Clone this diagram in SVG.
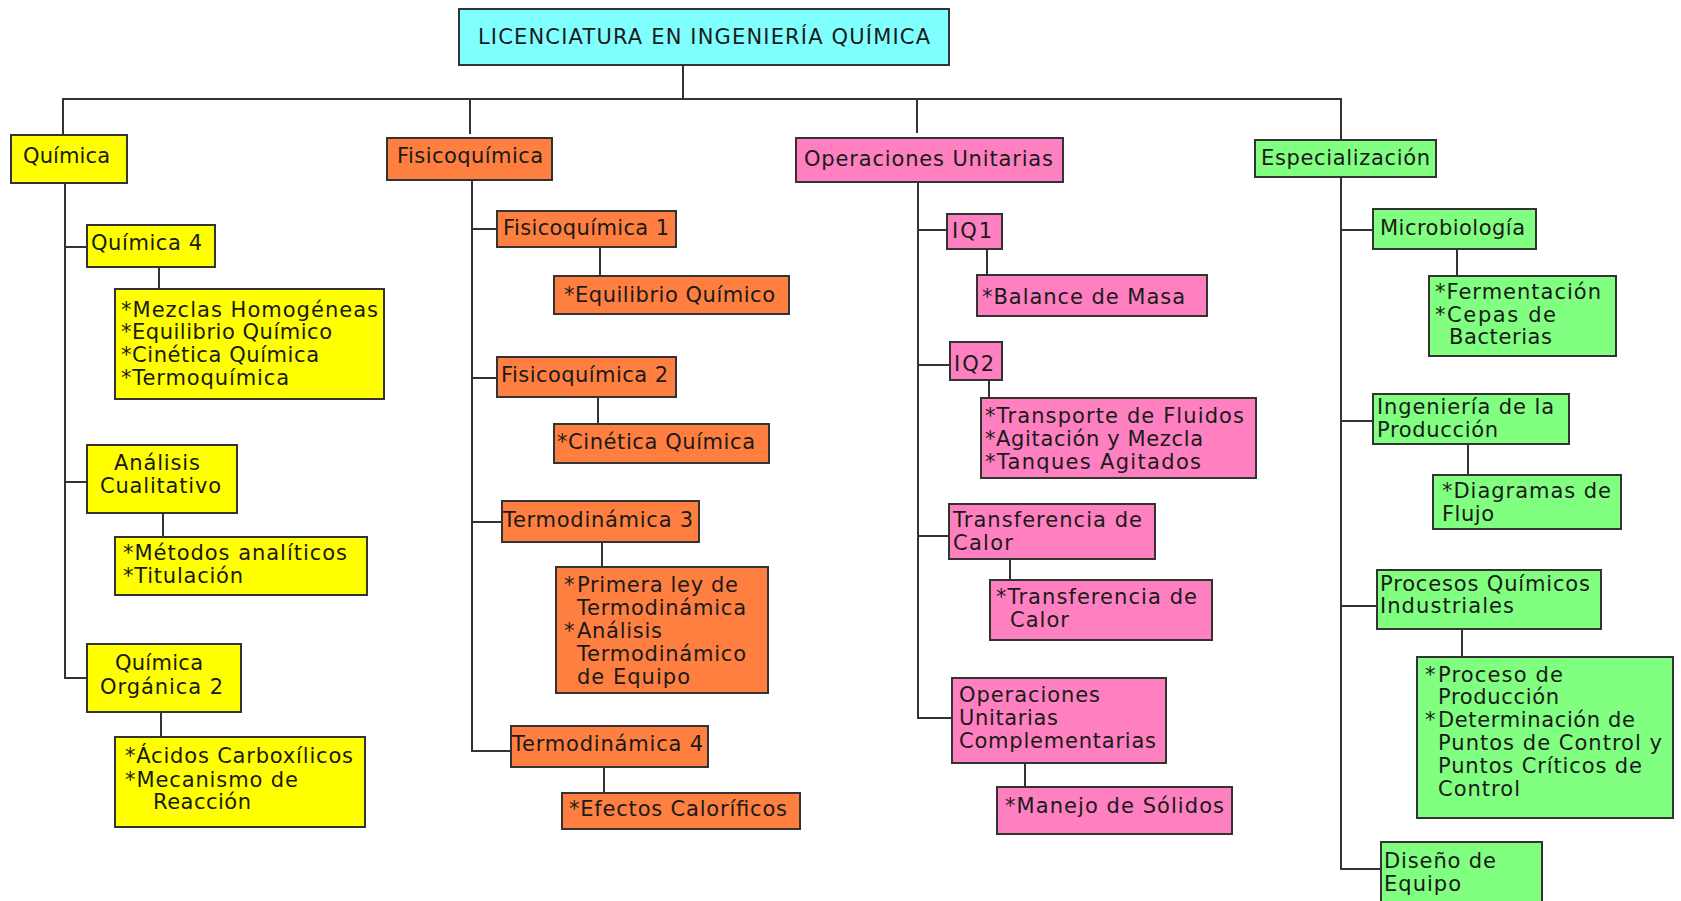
<svg xmlns="http://www.w3.org/2000/svg" width="1681" height="901" viewBox="0 0 1681 901">
<style>
.b{stroke:#333;stroke-width:2}
.r{fill:#80FFFF}.y{fill:#FFFF00}.o{fill:#FF7F40}.p{fill:#FF80C0}.g{fill:#80FF80}
text{font-family:"DejaVu Sans","Liberation Sans",sans-serif;font-size:21px;fill:#1a1a1a}
.c{text-anchor:middle}
#conn line{stroke:#333;stroke-width:2}
</style>
<rect width="1681" height="901" fill="#fff"/>
<g id="conn">
<line x1="683" y1="65" x2="683" y2="99"/>
<line x1="62" y1="99" x2="1342" y2="99"/>
<line x1="63" y1="99" x2="63" y2="135"/>
<line x1="470" y1="99" x2="470" y2="134"/>
<line x1="917" y1="99" x2="917" y2="133"/>
<line x1="1341" y1="99" x2="1341" y2="140"/>
<line x1="65" y1="183" x2="65" y2="679"/>
<line x1="65" y1="247" x2="87" y2="247"/>
<line x1="65" y1="482" x2="87" y2="482"/>
<line x1="64" y1="678" x2="87" y2="678"/>
<line x1="159" y1="267" x2="159" y2="289"/>
<line x1="163" y1="513" x2="163" y2="537"/>
<line x1="161" y1="712" x2="161" y2="737"/>
<line x1="472" y1="180" x2="472" y2="752"/>
<line x1="472" y1="229" x2="497" y2="229"/>
<line x1="472" y1="378" x2="497" y2="378"/>
<line x1="472" y1="522" x2="502" y2="522"/>
<line x1="471" y1="751" x2="511" y2="751"/>
<line x1="600" y1="247" x2="600" y2="276"/>
<line x1="598" y1="397" x2="598" y2="424"/>
<line x1="602" y1="542" x2="602" y2="567"/>
<line x1="604" y1="767" x2="604" y2="793"/>
<line x1="918" y1="182" x2="918" y2="719"/>
<line x1="918" y1="230" x2="947" y2="230"/>
<line x1="918" y1="365" x2="950" y2="365"/>
<line x1="918" y1="536" x2="949" y2="536"/>
<line x1="917" y1="718" x2="952" y2="718"/>
<line x1="987" y1="249" x2="987" y2="275"/>
<line x1="989" y1="380" x2="989" y2="398"/>
<line x1="1010" y1="559" x2="1010" y2="580"/>
<line x1="1025" y1="763" x2="1025" y2="787"/>
<line x1="1341" y1="177" x2="1341" y2="870"/>
<line x1="1341" y1="230" x2="1373" y2="230"/>
<line x1="1341" y1="421" x2="1373" y2="421"/>
<line x1="1341" y1="606" x2="1377" y2="606"/>
<line x1="1340" y1="869" x2="1381" y2="869"/>
<line x1="1457" y1="249" x2="1457" y2="276"/>
<line x1="1468" y1="444" x2="1468" y2="475"/>
<line x1="1462" y1="629" x2="1462" y2="657"/>
</g>
<g id="root"><rect class="b r" x="459" y="9" width="490" height="56"/><text x="478" y="44" textLength="452">LICENCIATURA EN INGENIERÍA QUÍMICA</text></g>

<g id="quimica"><rect class="b y" x="11" y="135" width="116" height="48"/><text x="23" y="163" textLength="87">Química</text></g>
<g id="quimica4"><rect class="b y" x="87" y="225" width="128" height="42"/><text x="91" y="250" textLength="111">Química 4</text></g>
<g id="quimica4-temas"><rect class="b y" x="115" y="289" width="269" height="110"/>
<text x="121" y="317" textLength="257">*Mezclas Homogéneas</text><text x="121" y="339" textLength="211">*Equilibrio Químico</text><text x="121" y="362" textLength="198">*Cinética Química</text><text x="121" y="385" textLength="168">*Termoquímica</text></g>
<g id="analisis"><rect class="b y" x="87" y="445" width="150" height="68"/><text x="114" y="470" textLength="86">Análisis</text><text x="100" y="493" textLength="121">Cualitativo</text></g>
<g id="analisis-temas"><rect class="b y" x="115" y="537" width="252" height="58"/><text x="123" y="560" textLength="224">*Métodos analíticos</text><text x="123" y="583" textLength="120">*Titulación</text></g>
<g id="organica2"><rect class="b y" x="87" y="644" width="154" height="68"/><text x="115" y="670" textLength="88">Química</text><text x="100" y="694" textLength="123">Orgánica 2</text></g>
<g id="organica2-temas"><rect class="b y" x="115" y="737" width="250" height="90"/><text x="125" y="763" textLength="228">*Ácidos Carboxílicos</text><text x="125" y="787" textLength="173">*Mecanismo de</text><text x="153" y="809" textLength="98">Reacción</text></g>

<g id="fisicoquimica"><rect class="b o" x="387" y="138" width="165" height="42"/><text x="397" y="163" textLength="146">Fisicoquímica</text></g>
<g id="fisico1"><rect class="b o" x="497" y="211" width="179" height="36"/><text x="503" y="235" textLength="166">Fisicoquímica 1</text></g>
<g id="fisico1-temas"><rect class="b o" x="554" y="276" width="235" height="38"/><text x="564" y="302" textLength="211">*Equilibrio Químico</text></g>
<g id="fisico2"><rect class="b o" x="497" y="357" width="179" height="40"/><text x="501" y="382" textLength="167">Fisicoquímica 2</text></g>
<g id="fisico2-temas"><rect class="b o" x="554" y="424" width="215" height="39"/><text x="557" y="449" textLength="198">*Cinética Química</text></g>
<g id="termo3"><rect class="b o" x="502" y="501" width="197" height="41"/><text x="503" y="527" textLength="190">Termodinámica 3</text></g>
<g id="termo3-temas"><rect class="b o" x="556" y="567" width="212" height="126"/>
<text x="564" y="592">*</text><text x="577" y="592" textLength="161">Primera ley de</text><text x="577" y="615" textLength="169">Termodinámica</text><text x="564" y="638">*</text><text x="577" y="638" textLength="85">Análisis</text><text x="577" y="661" textLength="169">Termodinámico</text><text x="577" y="684" textLength="113">de Equipo</text></g>
<g id="termo4"><rect class="b o" x="511" y="726" width="197" height="41"/><text x="512" y="751" textLength="191">Termodinámica 4</text></g>
<g id="termo4-temas"><rect class="b o" x="562" y="793" width="238" height="36"/><text x="569" y="816" textLength="218">*Efectos Caloríficos</text></g>

<g id="operaciones"><rect class="b p" x="796" y="138" width="267" height="44"/><text x="804" y="166" textLength="249">Operaciones Unitarias</text></g>
<g id="iq1"><rect class="b p" x="947" y="214" width="55" height="35"/><text x="952" y="238" textLength="40">IQ1</text></g>
<g id="iq1-temas"><rect class="b p" x="977" y="275" width="230" height="41"/><text x="982" y="304" textLength="203">*Balance de Masa</text></g>
<g id="iq2"><rect class="b p" x="950" y="342" width="52" height="38"/><text x="954" y="371" textLength="40">IQ2</text></g>
<g id="iq2-temas"><rect class="b p" x="981" y="398" width="275" height="80"/><text x="985" y="423" textLength="259">*Transporte de Fluidos</text><text x="985" y="446" textLength="218">*Agitación y Mezcla</text><text x="985" y="469" textLength="216">*Tanques Agitados</text></g>
<g id="calor"><rect class="b p" x="949" y="504" width="206" height="55"/><text x="953" y="527" textLength="189">Transferencia de</text><text x="953" y="550" textLength="60">Calor</text></g>
<g id="calor-temas"><rect class="b p" x="990" y="580" width="222" height="60"/><text x="996" y="604" textLength="201">*Transferencia de</text><text x="1010" y="627" textLength="59">Calor</text></g>
<g id="complementarias"><rect class="b p" x="952" y="678" width="214" height="85"/><text x="959" y="702" textLength="141">Operaciones</text><text x="959" y="725" textLength="99">Unitarias</text><text x="959" y="748" textLength="197">Complementarias</text></g>
<g id="complementarias-temas"><rect class="b p" x="997" y="787" width="235" height="47"/><text x="1005" y="813" textLength="219">*Manejo de Sólidos</text></g>

<g id="especializacion"><rect class="b g" x="1255" y="140" width="181" height="37"/><text x="1261" y="165" textLength="169">Especialización</text></g>
<g id="microbiologia"><rect class="b g" x="1373" y="209" width="163" height="40"/><text x="1380" y="235" textLength="145">Microbiología</text></g>
<g id="microbiologia-temas"><rect class="b g" x="1429" y="276" width="187" height="80"/><text x="1435" y="299" textLength="166">*Fermentación</text><text x="1435" y="322" textLength="121">*Cepas de</text><text x="1449" y="344" textLength="103">Bacterias</text></g>
<g id="produccion"><rect class="b g" x="1373" y="394" width="196" height="50"/><text x="1377" y="414" textLength="177">Ingeniería de la</text><text x="1377" y="437" textLength="121">Producción</text></g>
<g id="produccion-temas"><rect class="b g" x="1433" y="475" width="188" height="54"/><text x="1442" y="498" textLength="169">*Diagramas de</text><text x="1442" y="521" textLength="52">Flujo</text></g>
<g id="procesos"><rect class="b g" x="1377" y="570" width="224" height="59"/><text x="1380" y="591" textLength="210">Procesos Químicos</text><text x="1380" y="613" textLength="134">Industriales</text></g>
<g id="procesos-temas"><rect class="b g" x="1417" y="657" width="256" height="161"/>
<text x="1425" y="682">*</text><text x="1438" y="682" textLength="125">Proceso de</text><text x="1438" y="704" textLength="121">Producción</text><text x="1425" y="727">*</text><text x="1438" y="727" textLength="197">Determinación de</text><text x="1438" y="750" textLength="224">Puntos de Control y</text><text x="1438" y="773" textLength="204">Puntos Críticos de</text><text x="1438" y="796" textLength="82">Control</text></g>
<g id="diseno"><rect class="b g" x="1381" y="842" width="161" height="70"/><text x="1384" y="868" textLength="112">Diseño de</text><text x="1384" y="891" textLength="77">Equipo</text></g>
</svg>
